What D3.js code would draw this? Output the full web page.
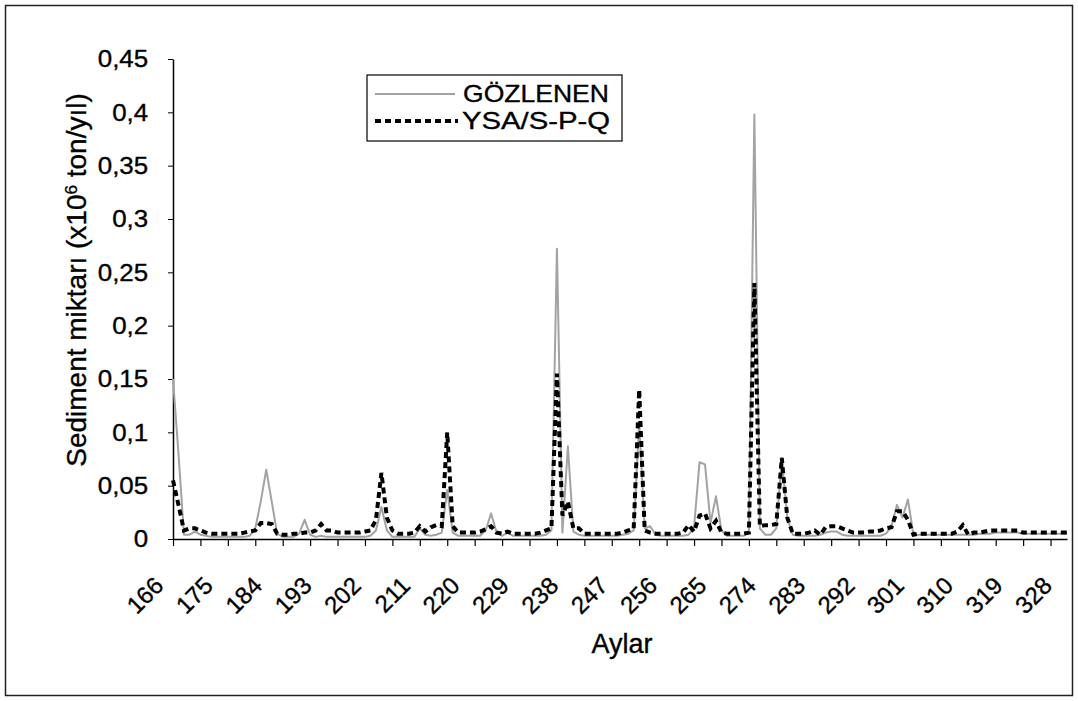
<!DOCTYPE html>
<html>
<head>
<meta charset="utf-8">
<script src="https://cdn.jsdelivr.net/npm/d3@7"></script>
<style>
  body { margin: 0; background: #fff; }
  text { font-family: "Liberation Sans", Arial, sans-serif; fill: #000; stroke: #000; stroke-width: 0.35px; }
</style>
</head>
<body>
<svg id="chart" width="1078" height="701"></svg>
<script>
// Months (category axis)
const months = d3.range(166, 330);

// Observed monthly sediment load (x10^6 ton/yıl)
const observed = [
  0.150,0.080,0.004,0.004,0.007,0.004,0.003,0.002,0.002,0.002, // 166-175
  0.002,0.002,0.002,0.002,0.003,0.010,0.035,0.065,0.035,0.005, // 176-185
  0.002,0.002,0.002,0.005,0.018,0.004,0.002,0.003,0.002,0.002, // 186-195
  0.002,0.002,0.002,0.002,0.002,0.002,0.003,0.008,0.030,0.008, // 196-205
  0.002,0.002,0.002,0.002,0.002,0.010,0.004,0.003,0.004,0.006, // 206-215
  0.046,0.006,0.003,0.003,0.003,0.003,0.003,0.008,0.024,0.006, // 216-225
  0.003,0.006,0.003,0.003,0.003,0.003,0.003,0.003,0.004,0.008, // 226-235
  0.272,0.006,0.087,0.007,0.004,0.003,0.003,0.003,0.003,0.003, // 236-245
  0.003,0.003,0.004,0.005,0.008,0.110,0.010,0.012,0.004,0.003, // 246-255
  0.003,0.003,0.003,0.003,0.004,0.011,0.072,0.070,0.015,0.040, // 256-265
  0.008,0.003,0.003,0.003,0.003,0.006,0.398,0.010,0.004,0.004, // 266-275
  0.010,0.076,0.020,0.004,0.003,0.003,0.003,0.003,0.004,0.006, // 276-285
  0.007,0.007,0.004,0.003,0.003,0.003,0.003,0.003,0.003,0.003, // 286-295
  0.005,0.012,0.032,0.020,0.037,0.004,0.004,0.004,0.004,0.004, // 296-305
  0.004,0.004,0.004,0.004,0.004,0.004,0.004,0.005,0.005,0.005, // 306-315
  0.006,0.006,0.006,0.006,0.006,0.005,0.005,0.005,0.005,0.005, // 316-325
  0.005,0.005,0.005,0.005                                      // 326-329
];

// Model output (YSA with S-P-Q inputs)
const predicted = [
  0.055,0.032,0.008,0.010,0.010,0.008,0.006,0.005,0.005,0.005, // 166-175
  0.005,0.005,0.005,0.006,0.007,0.008,0.015,0.015,0.014,0.005, // 176-185
  0.004,0.004,0.005,0.005,0.006,0.006,0.008,0.014,0.008,0.008, // 186-195
  0.006,0.006,0.006,0.006,0.006,0.007,0.008,0.018,0.062,0.020, // 196-205
  0.008,0.005,0.005,0.005,0.006,0.012,0.007,0.011,0.013,0.012, // 206-215
  0.100,0.012,0.006,0.006,0.006,0.006,0.007,0.009,0.012,0.006, // 216-225
  0.005,0.007,0.005,0.005,0.005,0.005,0.005,0.006,0.008,0.010, // 226-235
  0.155,0.022,0.035,0.010,0.010,0.005,0.005,0.005,0.005,0.005, // 236-245
  0.005,0.005,0.006,0.008,0.010,0.140,0.008,0.006,0.005,0.005, // 246-255
  0.005,0.005,0.005,0.006,0.013,0.007,0.022,0.024,0.010,0.017, // 256-265
  0.006,0.005,0.005,0.005,0.005,0.006,0.240,0.012,0.013,0.013, // 266-275
  0.014,0.076,0.020,0.005,0.005,0.005,0.006,0.008,0.004,0.011, // 276-285
  0.012,0.012,0.010,0.008,0.006,0.006,0.006,0.007,0.007,0.008, // 286-295
  0.010,0.011,0.026,0.026,0.018,0.004,0.005,0.005,0.005,0.005, // 296-305
  0.005,0.005,0.005,0.007,0.013,0.004,0.006,0.006,0.007,0.008, // 306-315
  0.008,0.008,0.008,0.008,0.008,0.006,0.006,0.006,0.006,0.006, // 316-325
  0.006,0.006,0.006,0.006                                      // 326-329
];

const yTicks = [0, 0.05, 0.1, 0.15, 0.2, 0.25, 0.3, 0.35, 0.4, 0.45];
const xTickMonths = d3.range(166, 330, 5);   // tick marks
const xLabelMonths = d3.range(166, 330, 9);  // labelled months
const seriesNames = ["GÖZLENEN", "YSA/S-P-Q"];
const xTitle = "Aylar";

const svg = d3.select("#chart");

// chart area border
svg.append("rect")
  .attr("x", 5.5).attr("y", 5.5)
  .attr("width", 1067).attr("height", 690)
  .attr("fill", "#fff").attr("stroke", "#222").attr("stroke-width", 1.5);

const x = d3.scaleLinear().domain([166, 329]).range([173, 1067]);
const y = d3.scaleLinear().domain([0, 0.45]).range([539, 59]);

const fmt = d => String(+d.toFixed(2)).replace(".", ",");

// Y axis
const yAxis = svg.append("g")
  .attr("transform", "translate(173,0)")
  .call(d3.axisLeft(y).tickValues(yTicks).tickSize(5).tickSizeOuter(0)
        .tickPadding(18).tickFormat(fmt));
yAxis.select(".domain").attr("stroke", "#000").attr("stroke-width", 1.5);
yAxis.selectAll(".tick line").attr("stroke", "#000");
yAxis.selectAll("text").style("font-size", "24px").attr("fill", "#000")
  .attr("transform", "scale(1.08,1)");

// X axis (tick marks every 5 months)
const xAxis = svg.append("g")
  .attr("transform", "translate(0,539)")
  .call(d3.axisBottom(x).tickValues(xTickMonths).tickSize(7).tickSizeOuter(0)
        .tickFormat(""));
xAxis.select(".domain").attr("stroke", "#000").attr("stroke-width", 1.5);
xAxis.selectAll(".tick line").attr("stroke", "#000").attr("stroke-width", 1.2);

// rotated month labels
svg.append("g").selectAll("text")
  .data(xLabelMonths)
  .join("text")
  .attr("transform", d => `translate(${x(d) - 8},587) rotate(-45)`)
  .attr("text-anchor", "end")
  .style("font-size", "24px")
  .text(d => d);

// axis titles
svg.append("text")
  .attr("x", 622).attr("y", 653)
  .attr("text-anchor", "middle")
  .style("font-size", "27px")
  .text(xTitle);

const yt = svg.append("text")
  .attr("transform", "translate(86,280) rotate(-90)")
  .attr("text-anchor", "middle")
  .style("font-size", "28px");
yt.append("tspan").text("Sediment miktarı (x10");
yt.append("tspan").attr("baseline-shift", "super").style("font-size", "17px").text("6");
yt.append("tspan").text(" ton/yıl)");

// series
const line = d3.line().x((d, i) => x(months[i])).y(d => y(d));

svg.append("path")
  .datum(observed)
  .attr("fill", "none")
  .attr("stroke", "#a3a3a3")
  .attr("stroke-width", 2)
  .attr("stroke-linejoin", "round")
  .attr("d", line);

svg.append("path")
  .datum(predicted)
  .attr("fill", "none")
  .attr("stroke", "#000")
  .attr("stroke-width", 4)
  .attr("stroke-dasharray", "6,4")
  .attr("d", line);

// legend
const lg = svg.append("g");
lg.append("rect")
  .attr("x", 367).attr("y", 75).attr("width", 255).attr("height", 66)
  .attr("fill", "#fff").attr("stroke", "#000").attr("stroke-width", 1.2);
lg.append("line")
  .attr("x1", 375).attr("x2", 455).attr("y1", 94).attr("y2", 94)
  .attr("stroke", "#a3a3a3").attr("stroke-width", 2);
lg.append("line")
  .attr("x1", 375).attr("x2", 458).attr("y1", 121).attr("y2", 121)
  .attr("stroke", "#000").attr("stroke-width", 4).attr("stroke-dasharray", "6,4");
lg.append("text").attr("x", 463).attr("y", 102).style("font-size", "24px")
  .attr("textLength", 146).attr("lengthAdjust", "spacingAndGlyphs").text(seriesNames[0]);
lg.append("text").attr("x", 462).attr("y", 129).style("font-size", "24px")
  .attr("textLength", 148).attr("lengthAdjust", "spacingAndGlyphs").text(seriesNames[1]);
</script>
</body>
</html>
